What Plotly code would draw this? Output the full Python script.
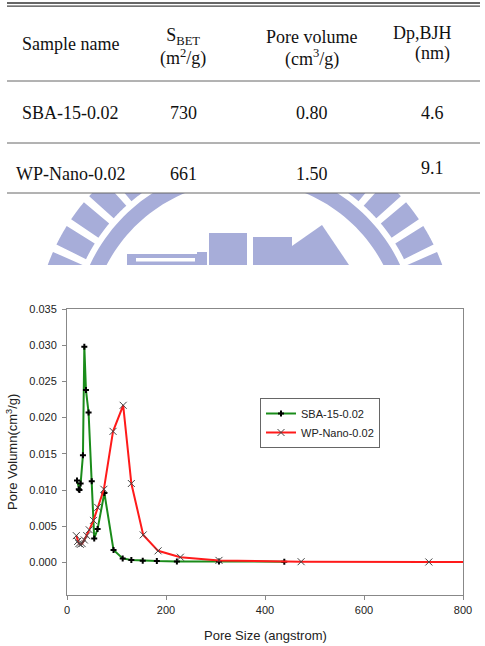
import numpy as np
import plotly.graph_objects as go

W, H = 485, 646

# ---------------- data ----------------
sample_names = ["SBA-15-0.02", "WP-Nano-0.02"]
s_bet = ["730", "661"]
pore_volume = ["0.80", "1.50"]
dp_bjh = ["4.6", "9.1"]

sba_x = [20.2, 23.8, 25.2, 27.5, 32.2, 35.0, 38.3, 43.6, 50.0, 55.0, 61.8, 75.5,
         94.0, 112.5, 130.0, 153.0, 181.5, 222.0, 307.0, 439.0]
sba_y = [0.0113, 0.0101, 0.0100, 0.0109, 0.0148, 0.0298, 0.0238, 0.0207, 0.0112,
         0.0033, 0.0046, 0.0096, 0.0017, 0.00055, 0.00032, 0.00022, 0.00018,
         0.00014, 0.00013, 0.0001]

wp_x = [18.8, 21.5, 24.0, 27.0, 30.5, 35.0, 40.0, 45.0, 53.5, 62.0, 74.5, 93.0,
        113.5, 130.0, 154.0, 184.0, 229.0, 307.0, 473.0, 731.0, 1150.0]
wp_y = [0.0037, 0.0029, 0.0026, 0.0025, 0.0026, 0.0031, 0.0037, 0.0045, 0.0058,
        0.0076, 0.0101, 0.0181, 0.0217, 0.0109, 0.0038, 0.0016, 0.00072, 0.00028,
        0.0001, 0.00006, 0.00002]

x_ticks = [0, 200, 400, 600, 800]
y_ticks = [0.000, 0.005, 0.010, 0.015, 0.020, 0.025, 0.030, 0.035]

# ---------------- helpers (pixel -> paper) ----------------
def px(x):
    return x / W

def py(y):
    return 1 - y / H

fig = go.Figure()

fig.add_trace(go.Scatter(
    x=sba_x, y=sba_y, mode="lines+markers", name="SBA-15-0.02",
    line=dict(color="#1a8c1a", width=2),
    marker=dict(symbol="cross", size=5, color="black"),
))
fig.add_trace(go.Scatter(
    x=wp_x, y=wp_y, mode="lines+markers", name="WP-Nano-0.02",
    line=dict(color="#ff1a1a", width=2),
    marker=dict(symbol="x-thin", size=7, color="#444",
                line=dict(color="#444", width=1)),
))

shapes = []
annotations = []

# ---------------- watermark ----------------
wm = "rgb(167,173,217)"
cx, cy = 245, 337

def sector(r0, r1, a0, a1, n=24):
    aa = np.radians(np.linspace(a0, a1, n))
    pts = [(cx + r1 * np.sin(a), cy - r1 * np.cos(a)) for a in aa]
    pts += [(cx + r0 * np.sin(a), cy - r0 * np.cos(a)) for a in aa[::-1]]
    d = "M " + " L ".join(f"{px(x):.5f},{py(y):.5f}" for x, y in pts) + " Z"
    return dict(type="path", xref="paper", yref="paper", path=d,
                fillcolor=wm, line=dict(width=0), layer="above")

def poly(pts):
    d = "M " + " L ".join(f"{px(x):.5f},{py(y):.5f}" for x, y in pts) + " Z"
    return dict(type="path", xref="paper", yref="paper", path=d,
                fillcolor=wm, line=dict(width=0), layer="above")

shapes.append(sector(156, 171, -76, 76, 80))
for a in [29, 37, 45, 53, 61, 69]:
    shapes.append(sector(177, 210, a - 2.9, a + 2.9))
    shapes.append(sector(177, 210, -a - 2.9, -a + 2.9))

# centre emblem
shapes.append(poly([(127, 254), (197, 254), (197, 252), (207, 252), (207, 265), (127, 265)]))
shapes.append(dict(type="rect", xref="paper", yref="paper", x0=px(136), x1=px(195),
                   y0=py(258), y1=py(261.5), fillcolor="white", line=dict(width=0),
                   layer="above"))
shapes.append(dict(type="rect", xref="paper", yref="paper", x0=px(209), x1=px(247),
                   y0=py(233), y1=py(265), fillcolor=wm, line=dict(width=0), layer="above"))
shapes.append(dict(type="rect", xref="paper", yref="paper", x0=px(253), x1=px(292),
                   y0=py(237), y1=py(265), fillcolor=wm, line=dict(width=0), layer="above"))
shapes.append(poly([(292, 246), (322, 225), (349, 265), (292, 265)]))

# white masks to clip the watermark
shapes.append(dict(type="rect", xref="paper", yref="paper", x0=0, x1=1,
                   y0=py(193), y1=1, fillcolor="white", line=dict(width=0), layer="above"))
shapes.append(dict(type="rect", xref="paper", yref="paper", x0=0, x1=1,
                   y0=py(300), y1=py(265), fillcolor="white", line=dict(width=0), layer="above"))

# ---------------- table ----------------
def hline(y, w=1, color="#555"):
    shapes.append(dict(type="line", xref="paper", yref="paper", x0=px(7), x1=px(480),
                       y0=py(y), y1=py(y), line=dict(color=color, width=w), layer="above"))

hline(3, 1.6, "#333")
hline(6.2, 1.2, "#444")
hline(81, 1, "#666")
hline(143, 1, "#666")
hline(193, 1, "#666")

serif = dict(family="Liberation Serif, Times New Roman, serif", size=18, color="#111")

def txt(x, y, s, size=18):
    f = dict(serif)
    f["size"] = size
    annotations.append(dict(x=px(x), y=py(y), xref="paper", yref="paper", text=s,
                            showarrow=False, font=f, xanchor="center", yanchor="middle"))

col_x = [70, 183, 312, 432]
txt(col_x[0], 44, "Sample name")
txt(col_x[1], 47, "S<sub>BET</sub><br>(m<sup>2</sup>/g)")
txt(col_x[2], 37, "Pore volume")
txt(col_x[2], 58, "(cm<sup>3</sup>/g)")
txt(422, 33, "Dp,BJH")
txt(col_x[3], 54, "(nm)")

row_y = [113, 174]
for i in range(2):
    txt(col_x[0], row_y[i], sample_names[i])
    txt(col_x[1], row_y[i], s_bet[i])
    txt(col_x[2], row_y[i], pore_volume[i])
    txt(col_x[3], row_y[i] - (6 if i == 1 else 0), dp_bjh[i])

# ---------------- axis titles ----------------
sans = "Liberation Sans, Arial, sans-serif"
annotations.append(dict(x=px(265), y=py(635), xref="paper", yref="paper",
                        text="Pore Size (angstrom)", showarrow=False,
                        font=dict(family=sans, size=13, color="#222"),
                        xanchor="center", yanchor="middle"))
annotations.append(dict(x=px(12), y=py(452), xref="paper", yref="paper",
                        text="Pore Volumn(cm<sup>3</sup>/g)", showarrow=False, textangle=-90,
                        font=dict(family=sans, size=13, color="#222"),
                        xanchor="center", yanchor="middle"))

axis_col = "#888"
fig.update_layout(
    width=W, height=H, autosize=False,
    margin=dict(l=0, r=0, t=0, b=0, pad=0),
    paper_bgcolor="white", plot_bgcolor="white",
    font=dict(family=sans, size=11, color="#222"),
    xaxis=dict(domain=[px(67), px(463)], range=[0, 800], tickvals=x_ticks,
               showgrid=False, zeroline=False, showline=True, linecolor=axis_col,
               linewidth=1, mirror=True, ticks="outside", ticklen=4, tickcolor=axis_col,
               tickfont=dict(size=11, color="#222"), automargin=False,
               ticklabelstandoff=1),
    yaxis=dict(domain=[py(595), py(309)], range=[-0.0045, 0.035], tickvals=y_ticks,
               tickformat=".3f", showgrid=False, zeroline=False, showline=True,
               linecolor=axis_col, linewidth=1, mirror=True, ticks="outside", ticklen=4,
               tickcolor=axis_col, tickfont=dict(size=11, color="#222"), automargin=False,
               ticklabelstandoff=3),
    showlegend=True,
    legend=dict(x=px(260), y=py(398), xanchor="left", yanchor="top",
                bordercolor="#666", borderwidth=1, bgcolor="white",
                font=dict(family=sans, size=11, color="#222")),
    shapes=shapes,
    annotations=annotations,
)

fig.write_html(
    "out.html",
    post_script="document.documentElement.style.margin='0';document.body.style.margin='0';"
                "document.body.style.padding='0';document.body.style.overflow='hidden';",
)
